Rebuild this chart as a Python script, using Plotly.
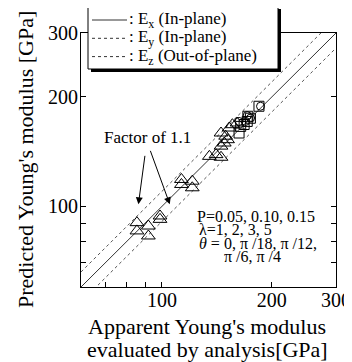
import math
import plotly.graph_objects as go

# ---- data ----
tri_x = [85.4, 85.4, 91.8, 91.8, 98.8, 98.8, 113.1, 113.1, 121.1, 121.1,
         134.9, 140.7, 145.2, 145.2, 148.2, 151.3, 145.2, 149.5, 152.9, 156.0, 160.7]
tri_y = [90.2, 85.6, 88.3, 82.9, 94.1, 92.1, 118.6, 114.9, 117.3, 112.5,
         137.3, 138.8, 136.5, 146.5, 149.4, 152.6, 159.2, 156.0, 164.3, 167.8, 169.6]
sq_x = [162.7, 164.4, 168.0, 171.3, 174.8, 172.0, 184.5]
sq_y = [159.2, 166.0, 168.0, 171.3, 174.8, 177.0, 188.6]
ci_x = [162.7, 169.5, 171.3, 175.0, 186.3]
ci_y = [171.3, 171.3, 177.7, 175.0, 188.6]

line_x = [60, 300]
factor = 1.1
axis_range = [60, 300]
tick_vals = [100, 200, 300]
tick_text = ["100", "200", "300"]
minor_tick_vals = [70, 80, 90]

legend_names = [": E<sub>x</sub> (In-plane)", ": E<sub>y</sub> (In-plane)", ": E<sub>z</sub> (Out-of-plane)"]
legend_dash = ["solid", "3px,3px", "3px,3px"]

FONT = "Liberation Serif"
OFF = 8  # default page body margin
W, H = 352 - OFF, 362 - OFF
ML, MR, MT, MB = 81 - OFF, 16, 33 - OFF, 75
PW, PH = W - ML - MR, H - MT - MB


def px2paper(px, py):
    """window pixel -> paper coordinates"""
    return (px - OFF - ML) / PW, (H - MB - (py - OFF)) / PH


fig = go.Figure()
fig.add_trace(go.Scatter(x=line_x, y=line_x, mode="lines", showlegend=False,
                         line=dict(color="#333", width=1)))
fig.add_trace(go.Scatter(x=line_x, y=[v * factor for v in line_x], mode="lines", showlegend=False,
                         line=dict(color="#555", width=1, dash="3px,3px")))
fig.add_trace(go.Scatter(x=line_x, y=[v / factor for v in line_x], mode="lines", showlegend=False,
                         line=dict(color="#555", width=1, dash="3px,3px")))

fig.add_trace(go.Scatter(x=tri_x, y=tri_y, mode="markers", showlegend=False,
                         marker=dict(symbol="triangle-up-open", size=12, color="black", line=dict(width=1))))
fig.add_trace(go.Scatter(x=sq_x, y=sq_y, mode="markers", showlegend=False,
                         marker=dict(symbol="square-open", size=10, color="black", line=dict(width=1))))
fig.add_trace(go.Scatter(x=ci_x, y=ci_y, mode="markers", showlegend=False,
                         marker=dict(symbol="circle-open", size=8, color="black", line=dict(width=1))))

ax_common = dict(type="log", range=[math.log10(axis_range[0]), math.log10(axis_range[1])],
                 tickmode="array", tickvals=tick_vals, ticktext=tick_text,
                 ticks="inside", ticklen=5, tickcolor="black",
                 minor=dict(tickmode="array", tickvals=minor_tick_vals, ticks="inside",
                            ticklen=5, tickcolor="black", showgrid=False),
                 showline=True, linecolor="black", linewidth=1,
                 mirror="ticks", showgrid=False, zeroline=False, automargin=False,
                 tickfont=dict(family=FONT, size=20, color="black"))

fig.update_layout(
    width=W, height=H,
    margin=dict(l=ML, r=MR, t=MT, b=MB),
    paper_bgcolor="white", plot_bgcolor="white",
    font=dict(family=FONT, color="black"),
    xaxis=dict(**ax_common, ticklabelstandoff=-5),
    yaxis=dict(**ax_common, ticklabelstandoff=-2),
    showlegend=False,
)


def text_at(px, py, text, size, xanchor="center", angle=0):
    xx, yy = px2paper(px, py)
    fig.add_annotation(xref="paper", yref="paper", x=xx, y=yy, text=text,
                       xanchor=xanchor, yanchor="middle", textangle=angle,
                       showarrow=False, font=dict(family=FONT, size=size, color="black"))


# axis titles
text_at(207, 326, "Apparent Young's modulus", 22)
text_at(207, 349, "evaluated by analysis[GPa]", 22)
text_at(25, 160, "Predicted Young's modulus [GPa]", 22, angle=-90)

# legend (shadow, box, glyphs, texts)
sx0, sy1 = px2paper(91, 9)
sx1, sy0 = px2paper(281, 72)
fig.add_shape(type="rect", xref="paper", yref="paper", x0=sx0, x1=sx1, y0=sy0, y1=sy1,
              fillcolor="black", line=dict(width=0), layer="above")
bx0, by1 = px2paper(88, 6)
bx1, by0 = px2paper(278, 69)
fig.add_shape(type="rect", xref="paper", yref="paper", x0=bx0, x1=bx1, y0=by0, y1=by1,
              fillcolor="white", line=dict(color="black", width=1), layer="above")
for i, (name, dash) in enumerate(zip(legend_names, legend_dash)):
    ry = 20 + i * 18.3
    lx0, ly = px2paper(92, ry)
    lx1, _ = px2paper(127, ry)
    fig.add_shape(type="line", xref="paper", yref="paper", x0=lx0, x1=lx1, y0=ly, y1=ly,
                  line=dict(color="#333", width=1, dash=dash), layer="above")
    text_at(127, ry, name, 17, xanchor="left")

# in-plot annotations
text_at(147, 137, "Factor of 1.1", 17)
for tip_x, tip_y, dx, dy in [(86.2, 101.3, 6.7, -50), (105.1, 101.3, -20, -55)]:
    fig.add_annotation(x=math.log10(tip_x), y=math.log10(tip_y), xref="x", yref="y",
                       ax=dx, ay=dy, text="", showarrow=True, arrowhead=2, arrowsize=1.4,
                       arrowwidth=1, arrowcolor="black", standoff=0)

lines = [("P=0.05, 0.10, 0.15", 195, 216),
         ("λ=1, 2, 3, 5", 197, 229.5),
         ("<i>θ</i> = 0, π /18, π /12,", 197, 243),
         ("π /6, π /4", 222, 256.5)]
for t, px, py in lines:
    text_at(px, py, t, 16, xanchor="left")

fig.write_html("out.html")
